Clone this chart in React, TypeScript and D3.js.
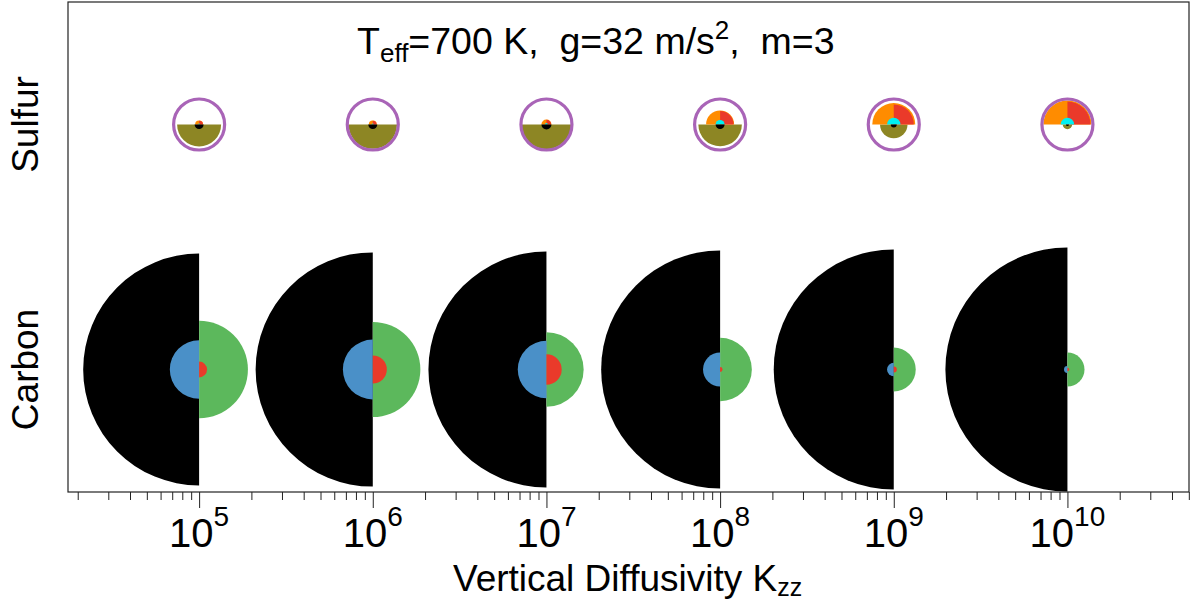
import React, { useRef, useEffect } from "react";
import * as d3 from "d3";

// Kzz values (one glyph per value)
const kzz = [1e5, 1e6, 1e7, 1e8, 1e9, 1e10];
const tickExponents = [5, 6, 7, 8, 9, 10];
const rows = ["Sulfur", "Carbon"];
const rowPos = [0.75, 0.25];

// Sulfur glyph radii (relative to the purple ring)
const sOrange = [0.16, 0.16, 0.2, 0.56, 0.86, 0.96];
const sRed = [0.15, 0.15, 0.19, 0.54, 0.8, 0.92];
const sCyan = [0.04, 0.04, 0.06, 0.18, 0.27, 0.27];
const sOlive = [0.88, 0.97, 0.99, 0.87, 0.55, 0.19];
const sBlack = [0.18, 0.18, 0.2, 0.18, 0.12, 0.06];

// Carbon glyph radii (relative to the largest black half)
const cBlack = [0.95, 0.96, 0.967, 0.975, 0.984, 1.0];
const cBlue = [0.24, 0.245, 0.235, 0.14, 0.055, 0.028];
const cGreen = [0.4, 0.39, 0.305, 0.26, 0.18, 0.14];
const cRed = [0.065, 0.115, 0.125, 0.02, 0.025, 0.015];

const W = 1191;
const H = 601;
const M = { left: 68, right: 1189, top: 2, bottom: 492 };
const FONT = "'Liberation Sans', Arial, Helvetica, sans-serif";

const x = d3.scaleLog().domain([10 ** 4.245, 10 ** 10.7]).range([M.left, M.right]);
const y = d3.scaleLinear().domain([0, 1]).range([M.bottom, M.top]);
const rS = d3.scaleLinear().domain([0, 1]).range([0, 25]);
const rC = d3.scaleLinear().domain([0, 1]).range([0, 122]);

const PI = Math.PI;
const wedge = (r: number, a0: number, a1: number) =>
  d3.arc()({ innerRadius: 0, outerRadius: r, startAngle: a0, endAngle: a1 } as any) || "";

export default function App() {
  const axisRef = useRef<SVGGElement>(null);

  useEffect(() => {
    const g = d3.select(axisRef.current);
    g.selectAll("*").remove();
    const majors = tickExponents.map((e) => 10 ** e);
    const minors: number[] = [];
    for (let e = 4; e <= 10; e++) {
      for (let m = 2; m <= 9; m++) {
        const v = m * 10 ** e;
        if (v >= x.domain()[0] && v <= x.domain()[1]) minors.push(v);
      }
    }
    g.append("g")
      .attr("transform", `translate(0,${M.bottom})`)
      .call(d3.axisBottom(x).tickValues(minors).tickSize(8).tickSizeOuter(0).tickFormat(() => ""))
      .call((s) => s.select(".domain").remove())
      .call((s) => s.selectAll("line").attr("stroke", "#222"));
    g.append("g")
      .attr("transform", `translate(0,${M.bottom})`)
      .call(d3.axisBottom(x).tickValues(majors).tickSize(16).tickSizeOuter(0).tickFormat(() => ""))
      .call((s) => s.select(".domain").remove())
      .call((s) => s.selectAll("line").attr("stroke", "#222"));
  }, []);

  return (
    <svg
      width={W}
      height={H}
      style={{ position: "absolute", left: 0, top: 0, background: "#fff" }}
      fontFamily={FONT}
    >
      <rect
        x={M.left}
        y={M.top}
        width={M.right - M.left}
        height={M.bottom - M.top}
        fill="none"
        stroke="#222"
        strokeWidth={1.2}
      />

      {/* Sulfur row */}
      {kzz.map((k, i) => (
        <g key={"s" + i} transform={`translate(${x(k)},${y(rowPos[0])})`}>
          <path d={wedge(rS(sOlive[i]), PI / 2, (3 * PI) / 2)} fill="#8d8624" />
          <path d={wedge(rS(sOrange[i]), -PI / 2, PI / 2)} fill="#ff8c00" />
          <path d={wedge(rS(sRed[i]), 0, PI / 2)} fill="#ea3a2a" />
          <path d={wedge(rS(sCyan[i]), -PI / 2, PI / 2)} fill="#00f0f0" />
          <path d={wedge(rS(sBlack[i]), PI / 2, (3 * PI) / 2)} fill="#000" />
          <circle r={rS(1.02)} fill="none" stroke="#a964b7" strokeWidth={3.2} />
        </g>
      ))}

      {/* Carbon row */}
      {kzz.map((k, i) => (
        <g key={"c" + i} transform={`translate(${x(k)},${y(rowPos[1])})`}>
          <path d={wedge(rC(cBlack[i]), PI, 2 * PI)} fill="#000" />
          <path d={wedge(rC(cGreen[i]), 0, PI)} fill="#5cb85c" />
          <path d={wedge(rC(cBlue[i]), PI, 2 * PI)} fill="#4a90c8" />
          <path d={wedge(rC(cRed[i]), 0, PI)} fill="#ea3a2a" />
        </g>
      ))}

      <g ref={axisRef} />

      {/* tick labels */}
      {tickExponents.map((e) => (
        <text key={e} x={x(10 ** e)} y={547} textAnchor="middle" fontSize={40} fill="#000">
          10
          <tspan fontSize={28} dy={-21}>
            {e}
          </tspan>
        </text>
      ))}

      {/* axis label */}
      <text x={453} y={591} fontSize={37} fill="#000">
        Vertical Diffusivity K
        <tspan fontSize={25} dy={5}>
          zz
        </tspan>
      </text>

      {/* row labels */}
      {rows.map((r, i) => (
        <text
          key={r}
          transform={`translate(38,${y(rowPos[i])}) rotate(-90)`}
          textAnchor="middle"
          fontSize={37}
          fill="#000"
        >
          {r}
        </text>
      ))}

      {/* title */}
      <text x={357} y={54} fontSize={37.5} fill="#000" style={{ whiteSpace: "pre" }}>
        T
        <tspan fontSize={26} dy={8}>
          eff
        </tspan>
        <tspan dy={-8}>{"=700 K,  g=32 m/s"}</tspan>
        <tspan fontSize={26} dy={-15}>
          2
        </tspan>
        <tspan dy={15}>{",  m=3"}</tspan>
      </text>
    </svg>
  );
}
